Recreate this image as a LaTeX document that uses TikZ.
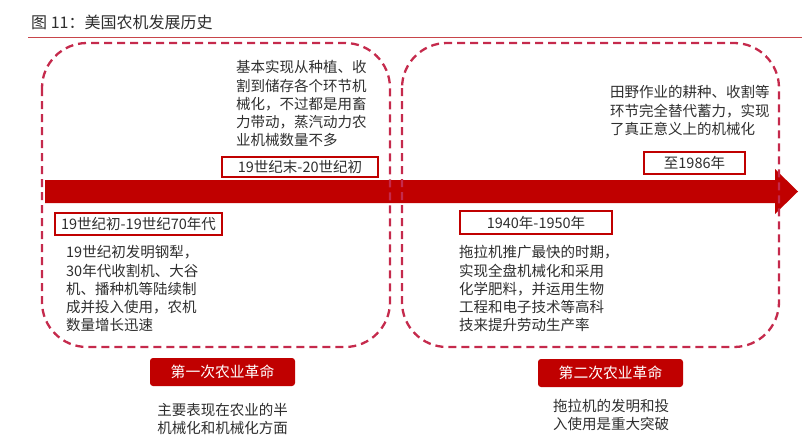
\documentclass[tikz,border=0pt]{standalone}
\usepackage{fontspec}
\setmainfont{Noto Sans CJK SC}
\definecolor{arrowred}{HTML}{C00000}
\definecolor{dashred}{HTML}{C52A4C}
\definecolor{txt}{HTML}{2E2E2E}
\definecolor{rulered}{HTML}{C8454A}
\tikzset{
  body/.style={inner sep=0pt, align=left, text=txt, font=\fontsize{14.5}{18.2}\selectfont},
  cbody/.style={inner sep=0pt, align=center, text=txt, font=\fontsize{14.5}{17.5}\selectfont},
  datebox/.style={draw=arrowred, line width=1.6pt, fill=white, inner sep=0pt, text=txt, font=\fontsize{14.5}{16}\selectfont},
  revbox/.style={fill=arrowred, rounded corners=3pt, inner sep=0pt, text=white, font=\fontsize{14.8}{17}\selectfont, minimum width=145pt, minimum height=28pt},
  era/.style={draw=dashred, line width=2.3pt, dash pattern=on 8pt off 5pt, rounded corners=45pt}
}
\begin{document}
\begin{tikzpicture}[x=1pt,y=-1pt]
\useasboundingbox (0,0) rectangle (802,445);
% title
\node[anchor=west, inner sep=0pt, text=txt, font=\fontsize{16}{18}\selectfont] (title) at (31,22) {图 11：美国农机发展历史};
\coordinate (ruleL) at (28,37);
\coordinate (ruleR) at (802,37);
\draw[rulered, line width=1pt] (ruleL) -- (ruleR);
% arrow
\fill[arrowred] (45,180) -- (775,180) -- (775,169) -- (798,191.5) -- (775,214) -- (775,203) -- (45,203) -- cycle;
% era frames
\draw[era] (42,43) rectangle (390,347);
\draw[era] (402,43) rectangle (779,347);
% date boxes
\node[datebox, minimum width=156pt, minimum height=20pt] (d1) at (300,167) {19世纪末-20世纪初};
\node[datebox, minimum width=167pt, minimum height=22pt] (d2) at (138.5,224) {19世纪初-19世纪70年代};
\node[datebox, minimum width=152pt, minimum height=23pt] (d3) at (536,222.5) {1940年-1950年};
\node[datebox, minimum width=101pt, minimum height=22pt] (d4) at (694.5,163) {至1986年};
% descriptions
\node[body, anchor=north west] (t1) at (236,60.5) {基本实现从种植、收\\割到储存各个环节机\\械化，不过都是用畜\\力带动，蒸汽动力农\\业机械数量不多};
\node[body, anchor=north west] (t2) at (610,85.5) {田野作业的耕种、收割等\\环节完全替代蓄力，实现\\了真正意义上的机械化};
\node[body, anchor=north west] (t3) at (66,245.5) {19世纪初发明钢犁，\\30年代收割机、大谷\\机、播种机等陆续制\\成并投入使用，农机\\数量增长迅速};
\node[body, anchor=north west] (t4) at (459,245.5) {拖拉机推广最快的时期，\\实现全盘机械化和采用\\化学肥料，并运用生物\\工程和电子技术等高科\\技来提升劳动生产率};
% revolutions
\node[revbox] (r1) at (222.5,372) {第一次农业革命};
\node[revbox] (r2) at (610.5,373) {第二次农业革命};
\node[cbody, anchor=north] (b1) at (222.5,403.5) {主要表现在农业的半\\机械化和机械化方面};
\node[cbody, anchor=north] (b2) at (611,399.5) {拖拉机的发明和投\\入使用是重大突破};
\end{tikzpicture}
\end{document}
